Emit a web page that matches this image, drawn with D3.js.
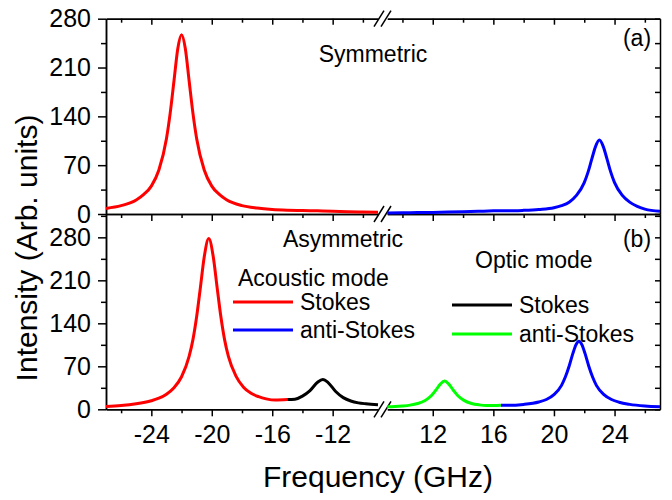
<!DOCTYPE html>
<html>
<head>
<meta charset="utf-8">
<script src="https://cdn.jsdelivr.net/npm/d3@7"></script>
<style>
  body { margin: 0; background: #fff; }
  svg { display: block; }
  text { font-family: "Liberation Sans", Arial, sans-serif; }
</style>
</head>
<body>
<div id="chart-area"></div>
<script>
// values: [frequency GHz, intensity]
var symStokes = [[-27,8],[-26,12],[-25,20],[-24.5,28],[-24,40],[-23.5,63],[-23,108],[-22.75,145],[-22.5,191],[-22.25,237],[-22,257],
  [-21.75,237],[-21.5,191],[-21.25,145],[-21,108],[-20.5,63],[-20,40],[-19.5,28],[-19,20],[-18,12],[-17,8.5],[-16,6.5],
  [-15,5.5],[-14,5],[-13,4.5],[-12,4],[-11,3.2],[-10,2.8],[-9,2.5]];
var symAnti = [[9,1.5],[10,1.8],[11,2],[12,2.3],[13,2.7],[14,3.2],[15,3.8],[16,4.5],[17,4.5],[18,5.2],[19,6.5],[20,9],[20.5,12],
  [21,17],[21.5,27],[22,45],[22.25,60],[22.5,79],[22.75,97],[23,106],[23.25,97],[23.5,79],[23.75,60],[24,45],[24.5,27],
  [25,17],[25.5,11],[26,7],[27,4]];

var asymStokes = [[-27,4.5],[-26,6],[-25,9],[-24,14],[-23.5,18],[-23,24.5],[-22.5,35],[-22,53],[-21.5,86],[-21.25,113],[-21,151],
  [-20.75,199],[-20.5,248],[-20.2,278],[-19.9,248],[-19.65,199],[-19.4,151],[-19.15,113],[-18.9,86],[-18.4,54],[-17.9,36],
  [-17.4,26],[-16.9,20.5],[-16.4,17],[-15.8,15],[-15,15.8]];
var opticStokes = [[-15,15.8],[-14.5,16.5],[-14,21.5],[-13.5,30.5],[-13,44],[-12.65,48.5],[-12.3,43.5],[-11.8,29],[-11.3,19],
  [-10.8,13.5],[-10.3,10.5],[-9.8,9],[-9,7.5]];
var opticAnti = [[9,4],[9.5,4.5],[10,5.4],[10.5,6.8],[11,9.4],[11.5,14.4],[11.9,22],[12.2,31],[12.5,41],[12.78,46],[13.06,41],
  [13.36,31],[13.66,22],[14.06,14.5],[14.56,9.5],[15.06,7.2],[15.56,6.2],[16,6.2],[16.5,6.5]];
var asymAnti = [[16.5,6.5],[17,6.4],[18,8],[19,12],[19.5,16],[20,24],[20.5,39],[20.75,52.5],[21,70],[21.25,91],[21.45,105],
  [21.65,111],[21.85,105],[22.05,91],[22.3,70],[22.55,52.5],[22.8,39],[23.3,24],[23.8,16],[24.3,11.5],[25,8],[26,5.3],[27,4]];

var yMajor = [0, 70, 140, 210, 280];
var yMinorTop = [35, 105, 175, 245];
var yMinorBot = [35, 105, 175, 245, 315];
var xMajorL = [-24, -20, -16, -12], xMinorL = [-26, -22, -18, -14, -10];
var xMajorR = [12, 16, 20, 24], xMinorR = [10, 14, 18, 22, 26];

var svg = d3.select("#chart-area").append("svg")
  .attr("width", 672)
  .attr("height", 500);

var xL = d3.scaleLinear().domain([-27, -9]).range([106, 378]);
var xR = d3.scaleLinear().domain([9, 27]).range([387.3, 660]);
var yTop = d3.scaleLinear().domain([0, 280]).range([214, 18.7]);
var yBot = d3.scaleLinear().domain([0, 318]).range([409.3, 214]);

function styleAxis(g, size) {
  g.selectAll("path, line").attr("stroke", "#000").attr("stroke-width", 1.5);
  g.selectAll("text").attr("font-size", size).attr("fill", "#000")
    .attr("font-family", '"Liberation Sans", Arial, sans-serif');
  g.attr("font-family", null);
}

function xAxes(yPos, side, labels) {
  [[xL, xMajorL, xMinorL], [xR, xMajorR, xMinorR]].forEach(function(s) {
    var maj = d3.axisBottom(s[0]).tickValues(s[1]).tickSize(side == "top" ? 6 : 7)
      .tickSizeOuter(0).tickPadding(9)
      .tickFormat(labels ? function(d) { return String(d); } : "");
    var g = svg.append("g").attr("transform", "translate(0," + yPos + ")").call(maj);
    styleAxis(g, 25);
    var mn = d3.axisBottom(s[0]).tickValues(s[2]).tickSize(4).tickSizeOuter(0).tickFormat("");
    var g2 = svg.append("g").attr("transform", "translate(0," + yPos + ")").call(mn);
    styleAxis(g2, 25);
  });
  // break marks
  [379, 386].forEach(function(cx) {
    svg.append("line")
      .attr("x1", cx - 5).attr("y1", yPos + 8)
      .attr("x2", cx + 5).attr("y2", yPos - 8)
      .attr("stroke", "#000").attr("stroke-width", 1.5);
  });
}

function yAxes(y, minor) {
  var g = svg.append("g").attr("transform", "translate(106,0)")
    .call(d3.axisLeft(y).tickValues(yMajor).tickSize(8).tickPadding(7).tickSizeOuter(0));
  styleAxis(g, 25);
  var g2 = svg.append("g").attr("transform", "translate(106,0)")
    .call(d3.axisLeft(y).tickValues(minor).tickSize(5).tickSizeOuter(0).tickFormat(""));
  styleAxis(g2, 25);
  var g3 = svg.append("g").attr("transform", "translate(660,0)")
    .call(d3.axisLeft(y).tickValues(yMajor.concat(minor)).tickSize(5).tickSizeOuter(0).tickFormat(""));
  styleAxis(g3, 25);
}

yAxes(yTop, yMinorTop);
yAxes(yBot, yMinorBot);
xAxes(18.7, "top", false);
xAxes(214, "bottom", false);
xAxes(409.3, "bottom", true);

function drawCurve(data, x, y, color) {
  var line = d3.line()
    .x(function(d) { return x(d[0]); })
    .y(function(d) { return y(d[1]); })
    .curve(d3.curveMonotoneX);
  svg.append("path")
    .datum(data)
    .attr("d", line)
    .attr("fill", "none")
    .attr("stroke", color)
    .attr("stroke-width", 3)
    .attr("stroke-linejoin", "round");
}

drawCurve(symStokes, xL, yTop, "#ff0000");
drawCurve(symAnti, xR, yTop, "#0000ff");
drawCurve(asymStokes, xL, yBot, "#ff0000");
drawCurve(opticStokes, xL, yBot, "#000000");
drawCurve(opticAnti, xR, yBot, "#00ff00");
drawCurve(asymAnti, xR, yBot, "#0000ff");

// labels
function label(x, y, s, size, anchor) {
  return svg.append("text").attr("x", x).attr("y", y)
    .attr("font-size", size).attr("text-anchor", anchor || "start").text(s);
}
label(373, 62, "Symmetric", 23, "middle");
label(283, 247, "Asymmetric", 23);
label(637, 46, "(a)", 23, "middle");
label(637, 247, "(b)", 23, "middle");
label(238, 286, "Acoustic mode", 23);
label(475, 268, "Optic mode", 23);

var legend = [
  { x: 233, y: 302, color: "#ff0000", name: "Stokes" },
  { x: 233, y: 330, color: "#0000ff", name: "anti-Stokes" },
  { x: 452, y: 305, color: "#000000", name: "Stokes" },
  { x: 452, y: 334, color: "#00ff00", name: "anti-Stokes" }
];
legend.forEach(function(d) {
  svg.append("line").attr("x1", d.x).attr("x2", d.x + 60)
    .attr("y1", d.y).attr("y2", d.y)
    .attr("stroke", d.color).attr("stroke-width", 3);
  label(d.x + 67, d.y + 8, d.name, 23);
});

svg.append("text")
  .attr("transform", "translate(37,248) rotate(-90)")
  .attr("text-anchor", "middle")
  .attr("font-size", 30)
  .text("Intensity (Arb. units)");
label(378, 487, "Frequency (GHz)", 30, "middle");
</script>
</body>
</html>
